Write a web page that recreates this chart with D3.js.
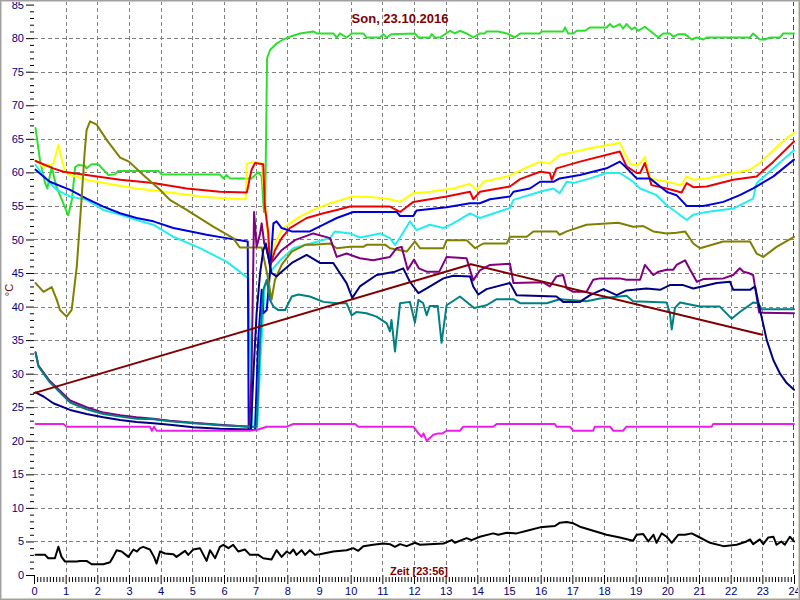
<!DOCTYPE html>
<html><head><meta charset="utf-8">
<script src="https://cdn.jsdelivr.net/npm/d3@7"></script>
<style>body{margin:0;background:#fff}svg{display:block}</style>
</head><body>
<script>
const title = "Son, 23.10.2016";
const xLabel = "Zeit [23:56]";
const yLabel = "°C";
const xTicks = d3.range(0, 25, 1);
const yTicks = d3.range(0, 86, 5);

const green = [[0.05,66.6],[0.19,61.8],[0.35,58.4],[0.42,57.6],[0.5,59.5],[0.56,60.8],[0.7,58],[1.08,53.6],[1.2,56],[1.3,60.8],[1.4,61.1],[1.6,61.0],[1.66,60.6],[1.82,61.2],[2.03,61.2],[2.35,59.6],[2.56,59.7],[2.66,60.2],[3.93,60.2],[4.03,59.7],[5.87,59.7],[5.98,59.1],[6.08,59.6],[6.19,59.1],[6.87,59.1],[7.08,60.0],[7.19,59.4],[7.26,54.1],[7.3,54.5],[7.36,77],[7.45,78.2],[7.66,79.2],[7.87,79.8],[8.08,80.2],[8.4,80.7],[8.82,81.0],[8.93,80.7],[9.45,80.7],[9.56,80.1],[9.66,80.7],[9.87,80.1],[10.03,80.7],[10.4,80.7],[10.5,80.1],[10.93,80.1],[11.03,80.6],[11.14,80.1],[11.29,80.6],[12.03,80.7],[12.14,80.1],[12.5,80.1],[12.56,80.6],[12.66,80.1],[12.82,80.1],[13.14,81.1],[13.29,80.7],[13.45,81.1],[13.66,80.7],[13.87,80.1],[14.08,80.7],[14.24,80.7],[14.29,81.0],[14.66,81.0],[14.93,80.7],[15.19,80.1],[15.35,80.7],[15.98,80.7],[16.03,81.0],[16.71,81.0],[16.77,81.6],[16.87,80.7],[17.03,80.7],[17.14,81.1],[17.4,81.1],[17.56,81.6],[18.08,81.6],[18.19,82.1],[18.29,81.6],[18.5,82.1],[18.6,81.4],[18.71,82.1],[18.87,81.3],[18.98,81.6],[19.08,81.1],[19.29,81.7],[19.45,81.1],[19.72,80.1],[19.87,80.7],[20.08,80.7],[20.19,80.2],[20.35,80.6],[20.56,80.6],[20.77,79.8],[20.93,80.1],[21.14,79.8],[21.24,80.1],[22.61,80.1],[22.71,80.7],[22.92,79.8],[23.08,79.8],[23.24,80.1],[23.56,80.1],[23.66,80.7],[24,80.7]];

const yellow = [[0.05,61.8],[0.3,60.8],[0.61,61.3],[0.77,64.1],[0.87,62.1],[0.98,60.1],[1.14,59.6],[1.66,58.9],[2.19,58.4],[2.72,58.0],[3.24,57.6],[3.77,57.3],[4.29,57.0],[5.24,56.4],[6.5,56.0],[6.68,56.0],[6.72,61.3],[6.93,61.6],[7.19,61.3],[7.3,55],[7.45,46.9],[7.61,49.4],[7.82,51.4],[8.08,52.4],[8.4,53.4],[8.82,54.4],[9.35,55.4],[9.87,56.1],[10.03,56.4],[10.71,56.3],[11.24,56.0],[11.56,55.6],[11.98,56.9],[12.5,57.1],[13.24,57.6],[13.77,58.3],[13.98,57.3],[14.19,58.6],[15.03,59.5],[15.45,60.5],[15.98,61.6],[16.29,61.3],[16.4,61.8],[16.6,62.6],[17.56,63.6],[18.5,64.4],[18.66,62.8],[18.82,61.3],[19.03,61.0],[19.19,61.6],[19.29,62.3],[19.45,59.1],[19.66,58.9],[19.98,58.6],[20.45,58.1],[20.61,59.4],[20.82,58.9],[21.24,59.1],[22.08,59.9],[22.61,60.4],[22.92,61.4],[23.35,63.3],[23.77,65.1],[24,65.9]];

const red = [[0.05,61.7],[0.61,60.6],[0.93,60.1],[1.66,59.6],[2.72,58.9],[3.77,58.4],[4.82,57.6],[5.87,57.1],[6.72,57.0],[6.87,60.4],[6.98,61.4],[7.24,61.2],[7.29,54.9],[7.4,50.9],[7.45,45.9],[7.61,48.4],[7.82,50.2],[8.08,51.7],[8.61,53.2],[9.14,53.9],[9.56,54.4],[9.98,54.9],[11.24,54.9],[11.56,54.1],[11.98,55.6],[13.03,56.4],[13.77,57.1],[13.87,56.0],[14.08,57.1],[15.03,57.9],[15.35,59.0],[15.98,60.1],[16.29,59.9],[16.35,58.9],[16.5,60.6],[17.24,61.6],[18.5,63.1],[18.71,60.9],[19.03,59.9],[19.14,59.9],[19.29,61.4],[19.5,58.1],[19.98,57.6],[20.45,57.0],[20.61,58.4],[20.82,57.8],[21.24,57.9],[22.08,58.9],[22.82,59.4],[23.35,61.6],[24,64.6]];

const cyan = [[0.05,61.1],[0.4,58.9],[0.72,57.4],[1.14,56.4],[1.66,55.9],[2.19,54.4],[2.72,53.7],[3.24,52.9],[3.77,52.2],[4.4,50.4],[5.24,48.7],[6.08,46.7],[6.77,44.2],[6.8,38],[6.9,22],[7.05,22],[7.15,32],[7.29,43],[7.5,45.4],[7.77,46.9],[8.19,48.7],[8.82,49.5],[9.35,50.2],[9.5,51.2],[9.98,50.9],[10.29,50.3],[10.93,50.9],[11.24,50.2],[11.4,49.2],[11.56,50.3],[11.77,51.9],[11.87,52.7],[12.08,51.4],[12.5,52.2],[12.93,51.7],[13.24,52.4],[13.77,53.9],[14.08,53.2],[15.03,54.7],[15.14,55.9],[15.98,57.1],[16.4,57.6],[16.6,56.9],[16.82,58.6],[17.03,58.4],[17.56,59.1],[18.08,59.9],[18.5,59.9],[18.92,58.6],[19.14,57.6],[19.66,56.6],[19.98,55.1],[20.19,54.4],[20.61,52.9],[20.82,53.7],[21.24,54.1],[22.08,54.6],[22.71,56.1],[22.82,58.4],[23.35,60.6],[24,63.3]];

const blue = [[0.05,60.4],[0.3,59.4],[0.5,58.6],[1.14,57.4],[1.66,56.1],[2.19,54.9],[2.72,53.9],[3.24,53.2],[3.77,52.7],[4.4,51.7],[5.03,51.1],[5.45,50.7],[6.08,50.2],[6.75,49.7],[6.78,21.6],[6.98,21.6],[7.08,35.0],[7.19,42.5],[7.24,39.0],[7.35,39.5],[7.45,45],[7.56,52.4],[7.66,52.7],[7.82,51.7],[8.14,51.2],[8.71,51.2],[9.14,52.2],[9.56,53.2],[10.08,54.1],[11.45,54.1],[11.56,53.5],[11.98,53.5],[12.08,54.3],[13.03,54.8],[13.77,55.4],[14.08,55.4],[14.4,56.0],[15.03,56.4],[15.14,57.1],[15.66,57.6],[15.98,58.6],[16.4,58.6],[16.6,59.1],[17.24,59.6],[18.08,60.6],[18.5,61.6],[18.66,60.9],[19.03,59.1],[19.45,59.1],[19.98,57.1],[20.29,56.6],[20.61,55.0],[21.14,55.0],[21.77,55.6],[22.29,56.6],[22.71,57.6],[23.35,59.4],[24,61.9]];

const olive = [[0.05,43.5],[0.3,42.2],[0.56,42.9],[0.72,41.0],[0.82,39.5],[1.03,38.5],[1.19,39.5],[1.35,45.9],[1.5,55.9],[1.6,63],[1.66,66.3],[1.77,67.6],[1.98,67.1],[2.3,64.8],[2.72,62.2],[3.0,61.6],[3.45,59.6],[3.98,57.4],[4.29,55.9],[4.82,54.4],[5.66,51.9],[6.29,50.2],[6.5,48.8],[7.19,48.8],[7.4,44],[7.5,41],[7.61,44],[7.82,46.2],[8.14,48.2],[8.56,49.2],[8.82,49.2],[9.35,49.4],[9.56,48.7],[9.98,48.9],[10.4,48.9],[10.5,49.2],[11.1,49.2],[11.24,48.7],[11.56,48.4],[11.77,48.2],[12.03,49.7],[12.19,48.7],[12.93,48.7],[13.03,49.9],[13.66,49.9],[13.93,48.7],[14.19,49.4],[14.93,49.4],[15.03,50.4],[15.56,50.4],[15.77,51.2],[16.5,51.2],[16.6,50.7],[16.82,51.2],[17.45,52.2],[18.45,52.5],[18.92,51.9],[19.24,52.0],[19.56,51.2],[19.98,50.9],[20.29,51.0],[20.56,51.2],[20.82,49.4],[21.03,48.7],[21.77,49.7],[22.61,49.7],[22.82,47.9],[23.03,47.4],[23.45,48.9],[24,50.4]];

const purple = [[0.05,33.2],[0.14,31.2],[0.5,28.9],[1.14,26.0],[1.66,25.0],[2.19,24.2],[2.72,23.8],[3.24,23.5],[3.77,23.3],[4.29,23.0],[5.03,22.7],[5.87,22.4],[6.8,22.1],[6.87,30],[6.95,54.1],[7.03,48.9],[7.14,50.9],[7.19,52.4],[7.27,49.4],[7.35,48.4],[7.45,46.4],[7.56,46.9],[7.82,48.4],[8.24,49.9],[8.82,50.9],[9.35,50.2],[9.56,47.4],[9.87,47.9],[10.29,47.2],[10.71,46.9],[11.03,47.2],[11.24,47.4],[11.45,48.7],[11.61,48.9],[11.8,45.5],[12.0,47.0],[12.15,45.7],[12.4,45.2],[12.8,45.2],[13.03,47.4],[13.66,47.2],[13.87,43.9],[14.08,45.4],[14.4,46.2],[15.03,46.4],[15.14,43.5],[15.77,43.6],[16.08,43.6],[16.29,43.0],[16.5,44.5],[16.71,44.7],[16.82,42.7],[17.03,42.2],[17.45,42.2],[17.66,44.0],[17.87,44.2],[18.5,44.2],[18.71,44.0],[19.14,44.0],[19.29,46.2],[19.56,44.7],[19.72,45.2],[19.98,45.5],[20.19,45.5],[20.29,46.2],[20.56,46.9],[20.72,45.5],[20.93,43.7],[21.14,44.1],[21.77,44.2],[22.08,44.7],[22.29,45.7],[22.4,45.2],[22.56,45.0],[22.71,44.7],[22.9,39.1],[24,39.0]];

const teal = [[0.05,33.1],[0.14,31.1],[0.5,28.7],[1.14,25.7],[1.66,24.7],[2.19,24.0],[2.72,23.6],[3.24,23.3],[3.77,23.2],[4.29,22.9],[5.03,22.6],[5.87,22.3],[6.9,22.1],[7.03,22.1],[7.14,35],[7.24,42.5],[7.35,44],[7.45,41],[7.56,40],[7.71,39.5],[7.93,39.5],[8.14,41.5],[8.35,41.8],[8.71,41.5],[9.14,40.7],[9.56,40.5],[9.87,40.5],[10.03,38.7],[10.19,39.2],[10.5,39.0],[10.82,38.5],[11.14,37.5],[11.24,36.3],[11.29,38.0],[11.4,33.3],[11.56,40.5],[11.87,40.7],[12.03,37.6],[12.14,41.0],[12.29,40.5],[12.4,38.7],[12.5,40.1],[12.75,40.1],[12.87,34.6],[13.03,40.2],[13.45,41.5],[13.9,39.8],[14.29,40.2],[14.61,41.1],[15.14,41.1],[15.35,40.5],[16.19,40.5],[16.6,41.1],[17.45,40.8],[17.87,41.2],[18.71,41.6],[18.92,40.8],[19.98,40.6],[20.08,39],[20.14,36.6],[20.24,39.8],[20.4,40.6],[21.03,40.0],[21.66,40.0],[22.03,38.2],[22.29,39.2],[22.71,40.6],[22.87,40.5],[22.98,39.6],[24,39.6]];

const navy = [[0.05,27.2],[0.3,26.6],[0.61,25.6],[1.14,24.6],[1.66,24.0],[2.19,23.5],[2.72,23.1],[3.24,22.8],[3.77,22.6],[4.29,22.4],[5.03,22.0],[5.87,21.8],[6.85,21.7],[6.93,30.1],[7.03,39],[7.14,45],[7.24,48.4],[7.32,49.4],[7.4,47.4],[7.5,45],[7.66,44.5],[7.82,45.2],[8.14,46.5],[8.61,47.7],[9.03,46.5],[9.45,46.5],[9.87,43.5],[10.05,41.3],[10.29,43.0],[10.82,44.7],[11.4,45.2],[11.66,45.7],[11.87,43.7],[12.14,42.0],[12.4,42.7],[12.93,44.2],[13.24,44.6],[13.77,44.5],[13.87,43.0],[14.03,41.8],[14.29,42.6],[15.03,43.5],[15.24,41.7],[16.5,41.5],[16.71,40.7],[17.24,40.7],[17.56,41.7],[17.98,42.6],[18.4,41.7],[18.71,42.4],[19.34,42.7],[19.77,42.5],[20.08,43.2],[20.5,43.2],[20.82,42.7],[21.56,43.5],[21.98,43.7],[22.08,42.5],[22.61,42.5],[22.77,43.0],[22.87,40.7],[23.14,35],[23.35,32],[23.56,30],[23.77,28.6],[24,27.6]];

const maroon = [[0,27.1],[13.8,46.3],[23.0,35.8]];

const magenta = [[0.05,22.5],[0.93,22.5],[1.03,22.1],[3.66,22.1],[3.72,21.5],[3.79,22.1],[3.87,21.5],[6.82,21.5],[7.03,21.6],[7.35,22.1],[7.98,22.1],[8.19,22.5],[10.14,22.5],[10.24,22.1],[11.98,22.1],[12.14,21.1],[12.24,20.6],[12.3,21.1],[12.4,20.0],[12.5,20.4],[12.61,20.9],[12.77,21.1],[12.9,21.1],[13.03,21.5],[13.45,21.5],[13.56,22.1],[14.5,22.1],[14.61,22.5],[16.45,22.5],[16.5,22.1],[16.92,22.1],[17.03,21.5],[17.66,21.5],[17.71,22.1],[18.19,22.1],[18.29,21.5],[18.6,21.5],[18.71,22.1],[21.4,22.1],[21.45,22.5],[24,22.5]];

const black = [[0.05,3.0],[0.35,3.0],[0.45,2.5],[0.66,2.5],[0.77,4.2],[0.87,2.7],[0.98,2.0],[1.35,2.0],[1.45,2.1],[1.66,2.1],[1.82,1.6],[2.19,1.6],[2.4,1.9],[2.5,2.7],[2.61,3.7],[2.77,3.5],[2.98,2.7],[3.14,3.8],[3.25,3.5],[3.35,4.0],[3.45,4.2],[3.66,3.8],[3.79,2.7],[3.87,1.7],[3.98,3.5],[4.14,3.2],[4.4,3.1],[4.5,2.7],[4.77,3.6],[4.87,3.0],[5.03,3.8],[5.24,4.0],[5.45,2.1],[5.56,3.7],[5.72,2.5],[5.87,4.2],[5.98,4.5],[6.14,4.0],[6.29,4.5],[6.45,3.5],[6.66,3.8],[6.82,3.0],[7.08,3.0],[7.24,2.5],[7.5,2.3],[7.66,3.7],[7.82,2.7],[7.98,3.5],[8.08,3.2],[8.19,3.8],[8.29,3.0],[8.45,3.7],[8.56,3.0],[8.71,3.7],[8.87,3.0],[9.03,3.1],[9.45,3.5],[9.87,3.7],[10.08,4.0],[10.24,3.6],[10.4,4.3],[10.71,4.5],[11.03,4.7],[11.24,4.6],[11.4,4.2],[11.56,4.6],[11.77,4.3],[12.03,4.8],[12.19,4.5],[12.93,4.7],[13.19,5.2],[13.29,4.8],[13.66,5.5],[13.82,5.2],[14.08,5.7],[14.5,6.2],[14.66,6.0],[14.93,6.3],[15.24,6.2],[15.66,6.7],[15.98,7.1],[16.45,7.3],[16.61,7.8],[16.82,7.9],[17.03,7.7],[17.24,7.2],[17.66,6.6],[18.08,6.0],[18.5,5.6],[18.92,5.1],[19.03,6.0],[19.24,6.1],[19.4,5.0],[19.56,6.0],[19.66,4.8],[19.82,6.2],[19.98,5.7],[20.14,4.8],[20.35,6.0],[20.56,6.0],[20.77,6.2],[20.98,5.7],[21.35,4.8],[21.77,4.3],[22.19,4.5],[22.5,5.0],[22.61,5.3],[22.71,4.6],[22.92,5.3],[23.03,4.6],[23.19,5.6],[23.35,5.7],[23.45,4.5],[23.6,5.0],[23.71,4.5],[23.87,5.7],[24,5.0]];

const seriesList = [
  {data: green, color: "#2ee02e"},
  {data: yellow, color: "#ffff00"},
  {data: red, color: "#ee0000"},
  {data: cyan, color: "#22eeee"},
  {data: blue, color: "#0000dd"},
  {data: olive, color: "#808000"},
  {data: purple, color: "#800080"},
  {data: teal, color: "#008080"},
  {data: navy, color: "#000080"},
  {data: maroon, color: "#800000"},
  {data: magenta, color: "#e820e8"},
  {data: black, color: "#000000"}
];

const W = 800, H = 600;
const svg = d3.select("body").append("svg").attr("width", W).attr("height", H);
svg.append("rect").attr("x",0).attr("y",0).attr("width",W).attr("height",H).attr("fill","#fff");

const x = d3.scaleLinear().domain([0, 24]).range([34, 794]);
const y = d3.scaleLinear().domain([0, 85]).range([575, 4.6]);

// grid
const grid = svg.append("g").attr("stroke", "#808080").attr("stroke-width", 1).attr("stroke-dasharray", "4,3");
grid.selectAll("line.h").data(yTicks.filter(v => v > 0 && v < 85)).join("line")
  .attr("x1", x(0)).attr("x2", x(24))
  .attr("y1", d => Math.round(y(d)) + 0.5).attr("y2", d => Math.round(y(d)) + 0.5);
grid.selectAll("line.v").data(xTicks.filter(v => v > 0 && v < 24)).join("line")
  .attr("y1", 1).attr("y2", y(0))
  .attr("x1", d => Math.round(x(d)) + 0.5).attr("x2", d => Math.round(x(d)) + 0.5);
svg.append("line").attr("x1", Math.round(x(24)) - 0.5).attr("x2", Math.round(x(24)) - 0.5)
  .attr("y1", 1).attr("y2", y(0)).attr("stroke", "#008000").attr("stroke-width", 1).attr("stroke-dasharray", "5,3");

// axes
const axFont = "Liberation Sans, Arial, sans-serif";
const yAx = svg.append("g").attr("transform", "translate(34,0)")
  .call(d3.axisLeft(y).tickValues(yTicks).tickSize(8).tickPadding(2).tickFormat(d3.format("d")));
yAx.select(".domain").remove();
yAx.selectAll("line").attr("stroke", "#000");
yAx.selectAll("text").attr("fill", "#000080").style("font", "11px " + axFont);
const yMin = svg.append("g").attr("transform", "translate(34,0)")
  .call(d3.axisLeft(y).tickValues(d3.range(0, 86, 1).filter(v => v % 5)).tickSize(4).tickFormat(""));
yMin.select(".domain").remove();
yMin.selectAll("line").attr("stroke", "#000");

const xAx = svg.append("g").attr("transform", "translate(0,575)")
  .call(d3.axisBottom(x).tickValues(xTicks).tickSize(9).tickPadding(3).tickFormat(d3.format("d")));
xAx.select(".domain").remove();
xAx.selectAll("line").attr("stroke", "#000");
xAx.selectAll("text").attr("fill", "#000080").style("font", "11px " + axFont);
const xMin = svg.append("g").attr("transform", "translate(0,577)")
  .call(d3.axisBottom(x).tickValues(d3.range(0, 240).map(i => i / 10).filter((v, i) => i % 10)).tickSize(5).tickFormat(""));
xMin.select(".domain").remove();
xMin.selectAll("line").attr("stroke", "#000");

// lines
const plot = svg.append("g");
const line = d3.line().x(d => x(d[0])).y(d => y(d[1]));
seriesList.forEach(s => {
  plot.append("path").datum(s.data).attr("d", line)
    .attr("fill", "none").attr("stroke", s.color).attr("stroke-width", 2)
    .attr("stroke-linejoin", "round").attr("stroke-linecap", "round");
});

// texts
svg.append("text").attr("x", 400).attr("y", 23).attr("text-anchor", "middle")
  .attr("fill", "#800000").style("font", "bold 13px " + axFont).text(title);
svg.append("text").attr("x", 419).attr("y", 575).attr("text-anchor", "middle")
  .attr("fill", "#800000").style("font", "bold 11px " + axFont).text(xLabel);
svg.append("text").attr("transform", "translate(13,290) rotate(-90)").attr("text-anchor", "middle")
  .attr("fill", "#800000").style("font", "11px " + axFont).text(yLabel);

// frame
svg.append("rect").attr("x", 0.5).attr("y", 0.5).attr("width", W - 1).attr("height", H - 1)
  .attr("fill", "none").attr("stroke", "#a0a0a0").attr("stroke-width", 1);
svg.append("rect").attr("x", 1.5).attr("y", 1.5).attr("width", W - 3).attr("height", H - 3)
  .attr("fill", "none").attr("stroke", "#d4d0c8").attr("stroke-width", 1);
</script>
</body></html>
